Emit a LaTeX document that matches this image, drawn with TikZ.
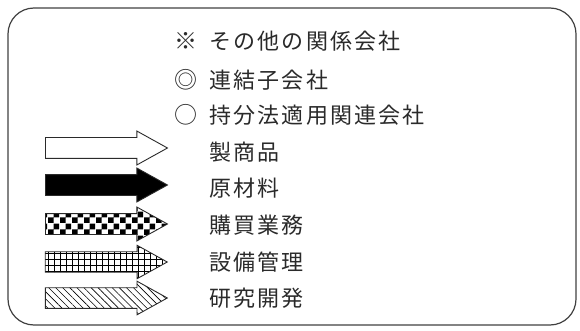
\documentclass[tikz,border=0pt]{standalone}
\usepackage{fontspec}
\setmainfont{Noto Sans CJK JP}[LetterSpace=10]
\usetikzlibrary{patterns,patterns.meta,shapes.arrows}

\pgfdeclarepatternformonly{bigchecker}{\pgfpointorigin}{\pgfqpoint{12pt}{12pt}}{\pgfqpoint{12pt}{12pt}}{%
  \pgfpathrectangle{\pgfpointorigin}{\pgfqpoint{6pt}{6pt}}%
  \pgfpathrectangle{\pgfqpoint{6pt}{6pt}}{\pgfqpoint{6pt}{6pt}}%
  \pgfusepath{fill}}

\definecolor{txt}{HTML}{2A2A2A}
\definecolor{frame}{HTML}{404040}

\tikzset{
  legarrow/.style={single arrow, draw=txt, line width=0.9pt, anchor=tail,
    minimum height=122pt, minimum width=33pt, inner xsep=0pt, inner ysep=10pt,
    single arrow head extend=6.5pt, single arrow tip angle=58,
    single arrow head indent=0pt},
  legtext/.style={anchor=west, inner sep=0pt, text=txt,
    font=\fontsize{22}{22}\selectfont},
  legsym/.style={anchor=center, inner sep=0pt, text=txt,
    font=\fontsize{23}{23}\selectfont},
  legbox/.style={draw=frame, line width=1.2pt, rounded corners=26pt}
}

\begin{document}
\begin{tikzpicture}[x=1pt,y=-1pt]
\useasboundingbox (0,0) rectangle (580,331);
\draw[legbox] (8,8) rectangle (576,325);

\node[legsym] (s1) at (186,41) {※};
\node[legtext] (t1) at (209,41) {その他の関係会社};
\node[legsym] (s2) at (186,80) {◎};
\node[legtext] (t2) at (209,80) {連結子会社};
\node[legsym] (s3) at (186,115) {○};
\node[legtext] (t3) at (209,115) {持分法適用関連会社};

\node[legarrow, fill=white] (a1) at (45,148) {};
\node[legtext] (t4) at (209,152) {製商品};
\node[legarrow, fill=black] (a2) at (45,185) {};
\node[legtext] (t5) at (209,188) {原材料};
\node[legarrow, pattern=bigchecker] (a3) at (45,224) {};
\node[legtext] (t6) at (209,225) {購買業務};
\node[legarrow, pattern={Hatch[angle=0,distance=6pt,line width=0.45pt]}] (a4) at (45,262) {};
\node[legtext] (t7) at (209,262) {設備管理};
\node[legarrow, pattern={Lines[angle=-45,distance=5pt,line width=0.6pt]}] (a5) at (45,298) {};
\node[legtext] (t8) at (209,298) {研究開発};
\end{tikzpicture}
\end{document}
